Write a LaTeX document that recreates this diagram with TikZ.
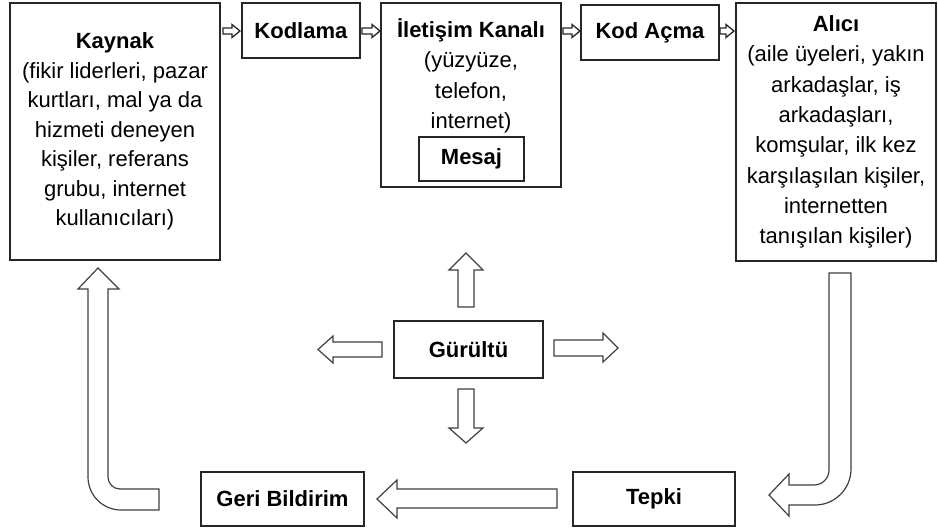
\documentclass[tikz,border=0pt]{standalone}
\usepackage{fontspec}
\setmainfont{Liberation Sans}
\newcommand{\fsA}{\fontsize{22}{29.5}\selectfont}
\newcommand{\fsB}{\fontsize{22}{30.3}\selectfont}
\newcommand{\sarr}[3]{\draw[sarrow] (#1,{#3-3}) -- ({#2-8},{#3-3}) -- ({#2-8},{#3-6.5}) -- (#2,#3) -- ({#2-8},{#3+6.5}) -- ({#2-8},{#3+3}) -- (#1,{#3+3}) -- cycle;}
\begin{document}
\begin{tikzpicture}[x=1pt,y=-1pt,
  box/.style={draw=black!85, line width=1.3pt, rectangle, inner sep=0pt, align=center, font=\fsA},
  txt/.style={inner sep=0pt, align=center, font=\fsB},
  blk/.style={draw=black!75, line width=1.2pt, fill=white, line join=miter},
  sarrow/.style={draw=black!85, line width=1.3pt, fill=white}]
\useasboundingbox (0,0) rectangle (938,531);

% top row
\node[box, minimum width=210pt, minimum height=257pt] (kaynak) at (115,131.5)
  {\textbf{Kaynak}\\(fikir liderleri, pazar\\kurtları, mal ya da\\hizmeti deneyen\\kişiler, referans\\grubu, internet\\kullanıcıları)};
\node[box, minimum width=118pt, minimum height=55pt] (kodlama) at (301,30.5) {\textbf{Kodlama}};
\node[box, minimum width=180pt, minimum height=184pt] (kanal) at (471,95) {};
\node[txt] (kanaltxt) at (471,76) {\textbf{İletişim Kanalı}\\(yüzyüze,\\telefon,\\internet)};
\node[box, minimum width=105pt, minimum height=44pt] (mesaj) at (471.5,159) {\textbf{Mesaj}};
\node[box, minimum width=138pt, minimum height=55pt] (kodacma) at (650,32.5) {\textbf{Kod Açma}};
\node[box, minimum width=200pt, minimum height=258pt, font=\fsB] (alici) at (836,132)
  {\textbf{Alıcı}\\(aile üyeleri, yakın\\arkadaşlar, iş\\arkadaşları,\\komşular, ilk kez\\karşılaşılan kişiler,\\internetten\\tanışılan kişiler)};

% middle and bottom
\node[box, minimum width=149pt, minimum height=57pt] (gurultu) at (468.5,349.5) {\textbf{Gürültü}};
\node[box, minimum width=163pt, minimum height=54pt] (geri) at (282.5,499) {\textbf{Geri Bildirim}};
\node[box, minimum width=162pt, minimum height=54pt] (tepki) at (654,499) {\textbf{Tepki}};

% small arrows between top boxes
\sarr{223}{240}{31}
\sarr{362}{380}{31}
\sarr{563}{580}{31}
\sarr{720}{734}{31}

% noise arrows
\draw[blk] (458,307)--(458,270)--(449,270)--(466,253)--(483,270)--(474,270)--(474,307)--cycle;
\draw[blk] (458,389)--(474,389)--(474,428)--(483,428)--(466,443)--(449,428)--(458,428)--cycle;
\draw[blk] (382,342)--(333,342)--(333,336)--(318,349.5)--(333,363)--(333,357)--(382,357)--cycle;
\draw[blk] (554,340)--(603,340)--(603,333)--(618,348)--(603,362)--(603,356)--(554,356)--cycle;

% Tepki -> Geri Bildirim
\draw[blk] (557,489)--(397,489)--(397,480)--(377,499)--(397,518)--(397,508)--(557,508)--cycle;

% Geri Bildirim -> Kaynak (bent)
\draw[blk] (159,489) -- (120,489) .. controls (113.4,489) and (108,483.6) .. (108,477)
  -- (108,289) -- (119,289) -- (98,268) -- (78,289) -- (88,289) -- (88,477)
  .. controls (88,495.2) and (102.8,510) .. (121,510) -- (159,510) -- cycle;

% Alici -> Tepki (bent)
\draw[blk] (829,273) -- (851,273) -- (851,469) .. controls (851,488.9) and (834.9,505) .. (815,505)
  -- (789,505) -- (789,516) -- (769,495) -- (789,474) -- (789,485) -- (814,485)
  .. controls (822.3,485) and (829,478.3) .. (829,470) -- cycle;
\end{tikzpicture}
\end{document}
